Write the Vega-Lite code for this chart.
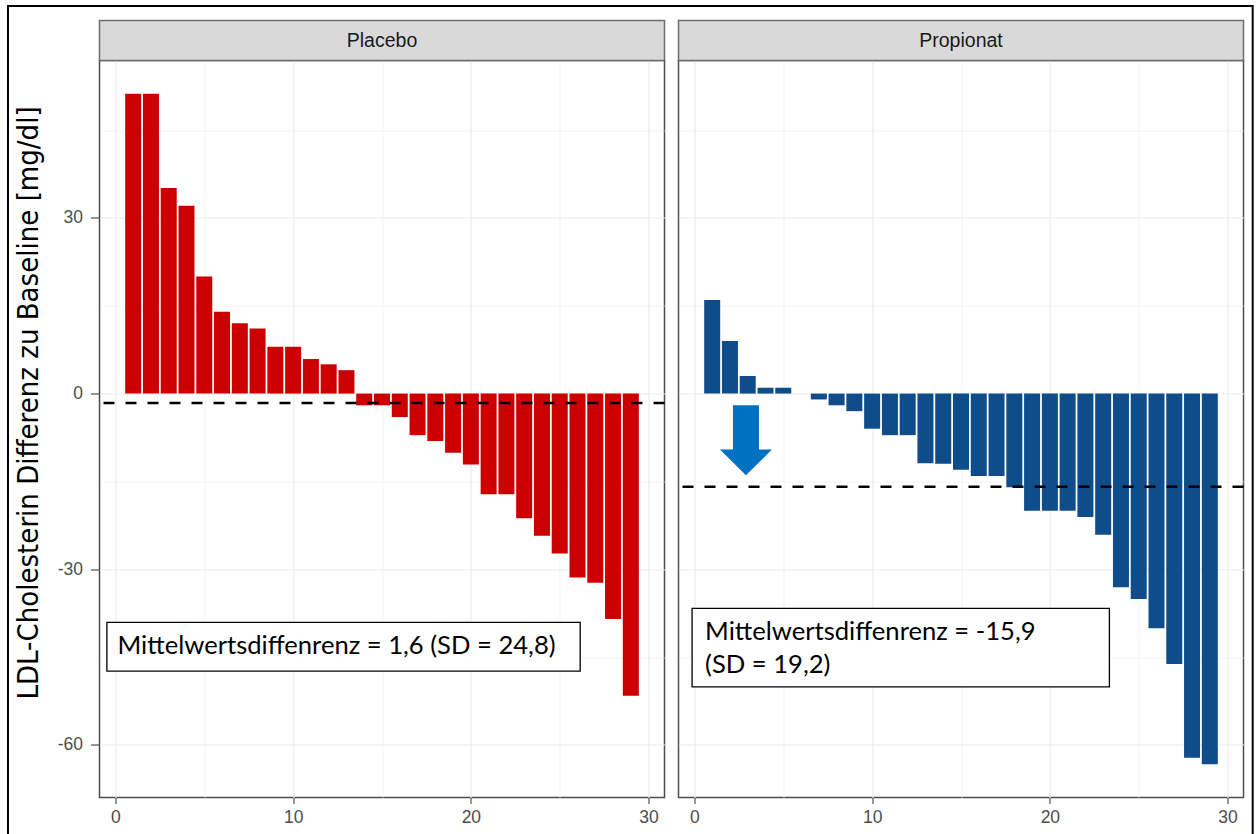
{
  "$schema": "https://vega.github.io/schema/vega-lite/v6.json",
  "background": "white",
  "padding": {"left": 5.5, "top": 3.5, "right": 4, "bottom": 0},
  "bounds": "flush",
  "spacing": 14,
  "datasets": {
    "bars": [
      {"panel": "Placebo", "patient": 1, "diff": 51.2},
      {"panel": "Placebo", "patient": 2, "diff": 51.2},
      {"panel": "Placebo", "patient": 3, "diff": 35.1},
      {"panel": "Placebo", "patient": 4, "diff": 32.1},
      {"panel": "Placebo", "patient": 5, "diff": 20.0},
      {"panel": "Placebo", "patient": 6, "diff": 14.0},
      {"panel": "Placebo", "patient": 7, "diff": 12.0},
      {"panel": "Placebo", "patient": 8, "diff": 11.1},
      {"panel": "Placebo", "patient": 9, "diff": 8.0},
      {"panel": "Placebo", "patient": 10, "diff": 8.0},
      {"panel": "Placebo", "patient": 11, "diff": 5.9},
      {"panel": "Placebo", "patient": 12, "diff": 5.0},
      {"panel": "Placebo", "patient": 13, "diff": 4.0},
      {"panel": "Placebo", "patient": 14, "diff": -2.0},
      {"panel": "Placebo", "patient": 15, "diff": -2.0},
      {"panel": "Placebo", "patient": 16, "diff": -4.0},
      {"panel": "Placebo", "patient": 17, "diff": -7.1},
      {"panel": "Placebo", "patient": 18, "diff": -8.1},
      {"panel": "Placebo", "patient": 19, "diff": -10.1},
      {"panel": "Placebo", "patient": 20, "diff": -12.1},
      {"panel": "Placebo", "patient": 21, "diff": -17.2},
      {"panel": "Placebo", "patient": 22, "diff": -17.2},
      {"panel": "Placebo", "patient": 23, "diff": -21.3},
      {"panel": "Placebo", "patient": 24, "diff": -24.3},
      {"panel": "Placebo", "patient": 25, "diff": -27.3},
      {"panel": "Placebo", "patient": 26, "diff": -31.4},
      {"panel": "Placebo", "patient": 27, "diff": -32.3},
      {"panel": "Placebo", "patient": 28, "diff": -38.5},
      {"panel": "Placebo", "patient": 29, "diff": -51.6},
      {"panel": "Propionat", "patient": 1, "diff": 16.0},
      {"panel": "Propionat", "patient": 2, "diff": 9.0},
      {"panel": "Propionat", "patient": 3, "diff": 3.0},
      {"panel": "Propionat", "patient": 4, "diff": 1.0},
      {"panel": "Propionat", "patient": 5, "diff": 1.0},
      {"panel": "Propionat", "patient": 6, "diff": 0.0},
      {"panel": "Propionat", "patient": 7, "diff": -1.0},
      {"panel": "Propionat", "patient": 8, "diff": -2.0},
      {"panel": "Propionat", "patient": 9, "diff": -3.0},
      {"panel": "Propionat", "patient": 10, "diff": -6.0},
      {"panel": "Propionat", "patient": 11, "diff": -7.1},
      {"panel": "Propionat", "patient": 12, "diff": -7.1},
      {"panel": "Propionat", "patient": 13, "diff": -11.9},
      {"panel": "Propionat", "patient": 14, "diff": -12.0},
      {"panel": "Propionat", "patient": 15, "diff": -13.0},
      {"panel": "Propionat", "patient": 16, "diff": -14.1},
      {"panel": "Propionat", "patient": 17, "diff": -14.1},
      {"panel": "Propionat", "patient": 18, "diff": -16.0},
      {"panel": "Propionat", "patient": 19, "diff": -20.0},
      {"panel": "Propionat", "patient": 20, "diff": -20.0},
      {"panel": "Propionat", "patient": 21, "diff": -20.0},
      {"panel": "Propionat", "patient": 22, "diff": -21.1},
      {"panel": "Propionat", "patient": 23, "diff": -24.1},
      {"panel": "Propionat", "patient": 24, "diff": -33.1},
      {"panel": "Propionat", "patient": 25, "diff": -35.1},
      {"panel": "Propionat", "patient": 26, "diff": -40.1},
      {"panel": "Propionat", "patient": 27, "diff": -46.2},
      {"panel": "Propionat", "patient": 28, "diff": -62.2},
      {"panel": "Propionat", "patient": 29, "diff": -63.3}
    ],
    "means": [
      {"panel": "Placebo", "mean": -1.6},
      {"panel": "Propionat", "mean": -15.9}
    ],
    "notes": [
      {"panel": "Placebo", "note": "Mittelwertsdiffenrenz = 1,6 (SD = 24,8)"},
      {"panel": "Propionat", "note": "Mittelwertsdiffenrenz = -15,9\n(SD = 19,2)"}
    ],
    "strips": [
      {"panel": "Placebo"},
      {"panel": "Propionat"}
    ]
  },
  "config": {
    "font": "Liberation Sans",
    "view": {"stroke": "#4D4D4D", "strokeWidth": 1.5},
    "axis": {
      "gridColor": "#EBEBEB",
      "domain": false,
      "tickColor": "#4D4D4D",
      "tickWidth": 1.2,
      "labelColor": "#4D4D4D",
      "labelFontSize": 17.5,
      "labelFont": "Liberation Sans"
    }
  },
  "hconcat": [
    {
      "width": 565,
      "height": 737,
      "layer": [
        {
          "data": {"name": "bars"},
          "transform": [{"filter": "datum.panel === 'Placebo'"}],
          "mark": {"type": "bar", "width": 16, "color": "#CC0000"},
          "encoding": {
            "x": {
              "field": "patient", "type": "quantitative",
              "scale": {"domain": [-0.895, 30.895], "nice": false, "zero": false, "padding": 0},
              "axis": {
                "title": null,
                "values": [0, 5, 10, 15, 20, 25, 30],
                "labelExpr": "datum.value % 10 === 0 ? '' + datum.value : ''",
                "tickOpacity": {"condition": {"test": "datum.value % 10 !== 0", "value": 0}, "value": 1},
                "gridWidth": {"condition": {"test": "datum.value % 10 !== 0", "value": 0.6}, "value": 1.2},
                "tickSize": 6,
                "labelPadding": 5
              }
            },
            "y": {
              "field": "diff", "type": "quantitative",
              "scale": {"domain": [-69.0, 56.9], "nice": false, "zero": false},
              "axis": {
                "title": "LDL-Cholesterin Differenz zu Baseline [mg/dl]",
                "titleFont": "DejaVu Sans Condensed",
                "titleFontSize": 29,
                "titleFontWeight": "normal",
                "titleColor": "#000000",
                "titlePadding": 14,
                "titleY": 342,
                "values": [-60, -45, -30, -15, 0, 15, 30, 45],
                "labelExpr": "datum.value % 30 === 0 ? '' + datum.value : ''",
                "tickOpacity": {"condition": {"test": "datum.value % 30 !== 0", "value": 0}, "value": 1},
                "gridWidth": {"condition": {"test": "datum.value % 30 !== 0", "value": 0.6}, "value": 1.2},
                "tickSize": 9,
                "labelPadding": 8
              }
            },
            "y2": {"datum": 0}
          }
        },
        {
          "data": {"name": "means"},
          "transform": [{"filter": "datum.panel === 'Placebo'"}],
          "mark": {"type": "rule", "strokeDash": [11, 11], "strokeWidth": 2.5, "color": "#000000"},
          "encoding": {"y": {"field": "mean", "type": "quantitative"}}
        },
        {
          "data": {"name": "notes"},
          "transform": [{"filter": "datum.panel === 'Placebo'"}],
          "mark": {"type": "rect", "fill": "white", "stroke": "#000000", "strokeWidth": 1.3},
          "encoding": {
            "x": {"datum": -0.48, "type": "quantitative"},
            "x2": {"datum": 26.15},
            "y": {"datum": -39.1, "type": "quantitative"},
            "y2": {"datum": -47.4}
          }
        },
        {
          "data": {"name": "notes"},
          "transform": [{"filter": "datum.panel === 'Placebo'"}],
          "mark": {"type": "text", "align": "left", "baseline": "middle", "font": "Lato", "fontSize": 25.6, "color": "#000000", "lineBreak": "\n", "lineHeight": 33},
          "encoding": {
            "text": {"field": "note", "type": "nominal"},
            "x": {"datum": 0.12, "type": "quantitative"},
            "y": {"datum": -43.2, "type": "quantitative"}
          }
        },
        {
          "data": {"name": "strips"},
          "transform": [{"filter": "datum.panel === 'Placebo'"}],
          "mark": {"type": "rect", "fill": "#D9D9D9", "stroke": "#6E6E6E", "strokeWidth": 1.5, "clip": false},
          "encoding": {
            "x": {"datum": -0.895, "type": "quantitative"},
            "x2": {"datum": 30.895},
            "y": {"datum": 63.73, "type": "quantitative"},
            "y2": {"datum": 56.9}
          }
        },
        {
          "data": {"name": "strips"},
          "transform": [{"filter": "datum.panel === 'Placebo'"}],
          "mark": {"type": "text", "fontSize": 19.5, "color": "#1A1A1A", "font": "Liberation Sans", "baseline": "middle", "align": "center", "clip": false},
          "encoding": {
            "text": {"field": "panel", "type": "nominal"},
            "x": {"datum": 15, "type": "quantitative"},
            "y": {"datum": 60.3, "type": "quantitative"}
          }
        },
        {
          "data": {"values": [{}]},
          "mark": {"type": "rect", "filled": false, "stroke": "#000000", "strokeWidth": 2, "clip": false},
          "encoding": {
            "x": {"datum": -6.044, "type": "quantitative"},
            "x2": {"datum": 63.99},
            "y": {"datum": 66.2, "type": "quantitative"},
            "y2": {"datum": -76.3}
          }
        }
      ]
    },
    {
      "width": 565,
      "height": 737,
      "layer": [
        {
          "data": {"name": "bars"},
          "transform": [{"filter": "datum.panel === 'Propionat'"}],
          "mark": {"type": "bar", "width": 16, "color": "#0F4C8A"},
          "encoding": {
            "x": {
              "field": "patient", "type": "quantitative",
              "scale": {"domain": [-0.895, 30.895], "nice": false, "zero": false, "padding": 0},
              "axis": {
                "title": null,
                "values": [0, 5, 10, 15, 20, 25, 30],
                "labelExpr": "datum.value % 10 === 0 ? '' + datum.value : ''",
                "tickOpacity": {"condition": {"test": "datum.value % 10 !== 0", "value": 0}, "value": 1},
                "gridWidth": {"condition": {"test": "datum.value % 10 !== 0", "value": 0.6}, "value": 1.2},
                "tickSize": 6,
                "labelPadding": 5
              }
            },
            "y": {
              "field": "diff", "type": "quantitative",
              "scale": {"domain": [-69.0, 56.9], "nice": false, "zero": false},
              "axis": {
                "title": null,
                "labels": false,
                "ticks": false,
                "values": [-60, -45, -30, -15, 0, 15, 30, 45],
                "gridWidth": {"condition": {"test": "datum.value % 30 !== 0", "value": 0.6}, "value": 1.2}
              }
            },
            "y2": {"datum": 0}
          }
        },
        {
          "data": {"name": "means"},
          "transform": [{"filter": "datum.panel === 'Propionat'"}],
          "mark": {"type": "rule", "strokeDash": [11, 11], "strokeWidth": 2.5, "color": "#000000"},
          "encoding": {"y": {"field": "mean", "type": "quantitative"}}
        },
        {
          "data": {"name": "notes"},
          "transform": [{"filter": "datum.panel === 'Propionat'"}],
          "mark": {"type": "rect", "fill": "white", "stroke": "#000000", "strokeWidth": 1.3},
          "encoding": {
            "x": {"datum": -0.13, "type": "quantitative"},
            "x2": {"datum": 23.35},
            "y": {"datum": -36.7, "type": "quantitative"},
            "y2": {"datum": -50.1}
          }
        },
        {
          "data": {"name": "notes"},
          "transform": [{"filter": "datum.panel === 'Propionat'"}],
          "mark": {"type": "text", "align": "left", "baseline": "middle", "font": "Lato", "fontSize": 25.6, "color": "#000000", "lineBreak": "\n", "lineHeight": 33},
          "encoding": {
            "text": {"field": "note", "type": "nominal"},
            "x": {"datum": 0.6, "type": "quantitative"},
            "y": {"datum": -40.8, "type": "quantitative"}
          }
        },
        {
          "data": {"values": [{}]},
          "mark": {"type": "point", "shape": "M-0.361,-0.972L0.361,-0.972L0.361,0.258L0.722,0.258L0,0.972L-0.722,0.258L-0.361,0.258Z", "size": 5184, "filled": true, "color": "#0070C0", "opacity": 1, "strokeWidth": 0},
          "encoding": {
            "x": {"datum": 2.9, "type": "quantitative"},
            "y": {"datum": -7.98, "type": "quantitative"}
          }
        },
        {
          "data": {"name": "strips"},
          "transform": [{"filter": "datum.panel === 'Propionat'"}],
          "mark": {"type": "rect", "fill": "#D9D9D9", "stroke": "#6E6E6E", "strokeWidth": 1.5, "clip": false},
          "encoding": {
            "x": {"datum": -0.895, "type": "quantitative"},
            "x2": {"datum": 30.895},
            "y": {"datum": 63.73, "type": "quantitative"},
            "y2": {"datum": 56.9}
          }
        },
        {
          "data": {"name": "strips"},
          "transform": [{"filter": "datum.panel === 'Propionat'"}],
          "mark": {"type": "text", "fontSize": 19.5, "color": "#1A1A1A", "font": "Liberation Sans", "baseline": "middle", "align": "center", "clip": false},
          "encoding": {
            "text": {"field": "panel", "type": "nominal"},
            "x": {"datum": 15, "type": "quantitative"},
            "y": {"datum": 60.3, "type": "quantitative"}
          }
        }
      ]
    }
  ]
}
